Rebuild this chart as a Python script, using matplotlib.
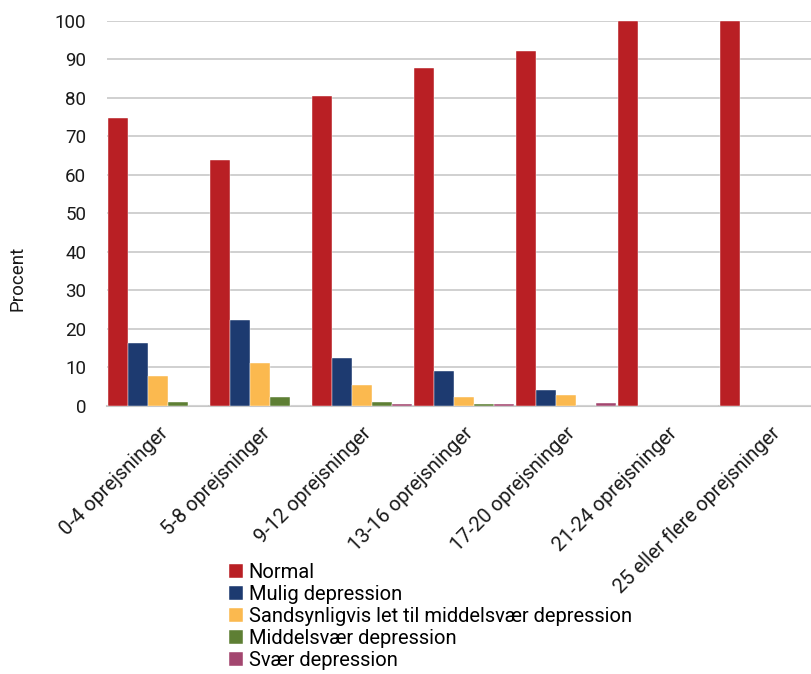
import numpy as np
import matplotlib
matplotlib.use("Agg")
import matplotlib.pyplot as plt

plt.rcParams["font.family"] = ["Roboto", "DejaVu Sans"]

# Categories and series (percent)
categories = ["0-4 oprejsninger", "5-8 oprejsninger", "9-12 oprejsninger",
              "13-16 oprejsninger", "17-20 oprejsninger", "21-24 oprejsninger",
              "25 eller flere oprejsninger"]
normal = [74.8, 63.9, 80.5, 87.8, 92.2, 100, 100]
mulig = [16.4, 22.3, 12.5, 8.9, 4.2, 0, 0]
sandsynlig = [7.6, 11.2, 5.4, 2.3, 2.8, 0, 0]
middel = [1.0, 2.4, 0.9, 0.4, 0, 0, 0]
svaer = [0, 0, 0.4, 0.4, 0.8, 0, 0]

series_names = ["Normal", "Mulig depression",
                "Sandsynligvis let til middelsvær depression",
                "Middelsvær depression", "Svær depression"]
colors = ["#B91F24", "#1D3A70", "#FBB94F", "#5E7F34", "#A3466F"]
yticks = [0, 10, 20, 30, 40, 50, 60, 70, 80, 90, 100]

fig = plt.figure(figsize=(8.11, 6.74), dpi=100)
ax = fig.add_axes([0.132, 0.398, 0.880, 0.571])

x = np.arange(len(categories))
w = 0.196
for j, (vals, name, c) in enumerate(zip([normal, mulig, sandsynlig, middel, svaer],
                                        series_names, colors)):
    ax.bar(x + (j - 2) * w, vals, width=w, color=c, label=name,
           edgecolor="white", linewidth=0.3, zorder=3)

ax.set_xlim(-0.5, len(categories) - 0.5)
ax.set_ylim(0, 100)
ax.set_yticks(yticks)
ax.yaxis.grid(True, color="#c8c8c8", linewidth=1.2, zorder=0)
for s in ["top", "right", "left"]:
    ax.spines[s].set_visible(False)
ax.spines["bottom"].set_color("#c8c8c8")
ax.spines["bottom"].set_linewidth(1.5)
ax.tick_params(axis="y", length=0, pad=15, labelsize=13.5, labelcolor="#1a1a1a")
ax.tick_params(axis="x", length=0, pad=13, labelsize=14.5, labelcolor="#1a1a1a")
ax.set_xticks(x)
ax.set_xticklabels(categories, rotation=45, ha="right", va="top",
                   rotation_mode="anchor")

fig.text(18 / 811, 1 - 278 / 674, "Procent", rotation=90, ha="center",
         va="center", fontsize=13.5, color="#1a1a1a")

# legend kept just inside the bottom edge
fig.legend(loc="upper left", bbox_to_anchor=(0.282, 0.164), frameon=False,
           fontsize=14.5, handlelength=0.7, handleheight=0.7,
           handletextpad=0.3, labelspacing=0.14, borderaxespad=0,
           borderpad=0)

fig.savefig("out.png", dpi=100)
